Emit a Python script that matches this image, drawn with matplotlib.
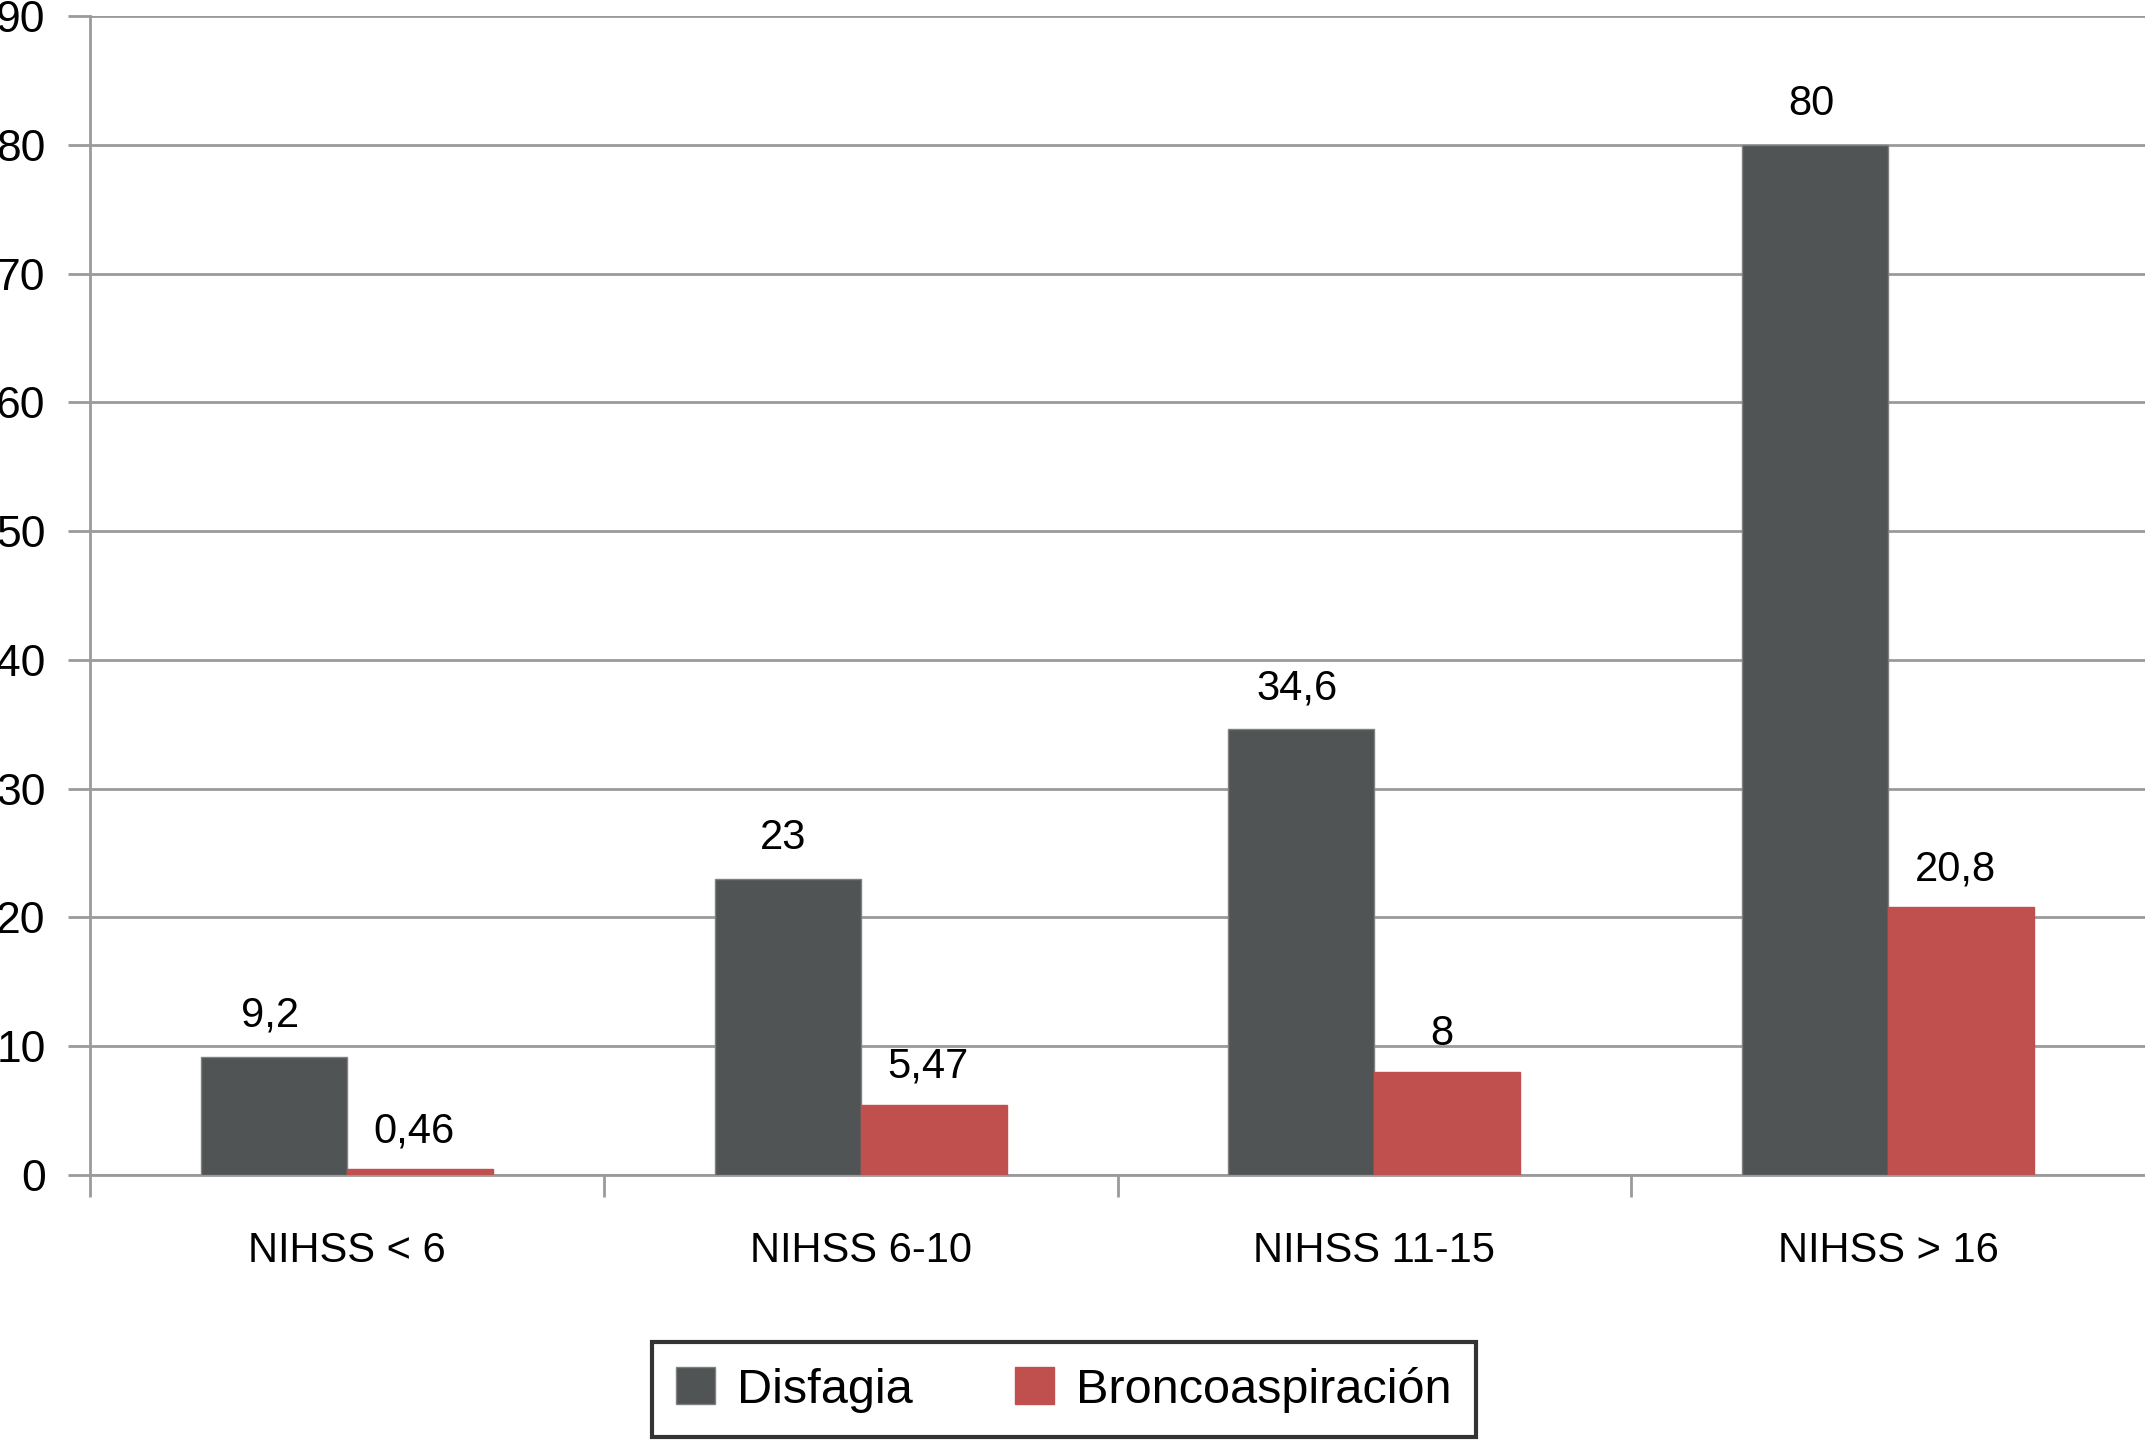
import numpy as np
import matplotlib
matplotlib.use('Agg')
from matplotlib import pyplot as plt

plt.rcParams['font.family'] = ['Liberation Sans', 'DejaVu Sans']

categories = ['NIHSS < 6', 'NIHSS 6-10', 'NIHSS 11-15', 'NIHSS > 16']
disfagia = [9.2, 23, 34.6, 80]
bronco = [0.46, 5.47, 8, 20.8]
disfagia_txt = ['9,2', '23', '34,6', '80']
bronco_txt = ['0,46', '5,47', '8', '20,8']

grid_col = '#9a9a9a'
dark = '#505455'
red = '#c0504d'

fig = plt.figure(figsize=(21.45, 14.4), dpi=100)
ax = fig.add_axes([90/2145, 1 - 1175/1440, 1 - 90/2145, (1175 - 16)/1440])

x = np.arange(len(categories))
w = 0.284
ax.bar(x - w/2, disfagia, w, color=dark, edgecolor='#808080', linewidth=1, zorder=3, label='Disfagia')
ax.bar(x + w/2, bronco, w, color=red, edgecolor=red, linewidth=1, zorder=3, label='Broncoaspiración')

for xi, v, t in zip(x, disfagia, disfagia_txt):
    ax.annotate(t, (xi - w/2, v), xytext=(-3, 15), textcoords='offset points',
                ha='center', va='bottom', fontsize=30)
for xi, v, t in zip(x, bronco, bronco_txt):
    ax.annotate(t, (xi + w/2, v), xytext=(-4, 13), textcoords='offset points',
                ha='center', va='bottom', fontsize=30)

ax.set_xlim(-0.5, 3.5)
ax.set_ylim(0, 90)
ax.set_yticks(np.arange(0, 91, 10))
ax.yaxis.grid(True, color=grid_col, linewidth=2, zorder=0)
ax.tick_params(axis='y', direction='out', length=16, width=2, color=grid_col,
               labelsize=32, pad=16)

ax.set_xticks(x)
ax.set_xticklabels(categories)
ax.set_xticks(np.arange(-0.5, 3.0, 1), minor=True)
ax.tick_params(axis='x', which='major', length=0, labelsize=30, pad=40)
ax.tick_params(axis='x', which='minor', direction='out', length=16, width=2, color=grid_col)

for s in ['top', 'right']:
    ax.spines[s].set_visible(False)
ax.spines['left'].set_color(grid_col)
ax.spines['left'].set_linewidth(2)
ax.spines['bottom'].set_color(grid_col)
ax.spines['bottom'].set_linewidth(2)

leg = fig.legend(loc='center', bbox_to_anchor=(0.496, 0.035), ncol=2, fontsize=35,
                 frameon=True, fancybox=False, edgecolor='black', handlelength=0.8,
                 handleheight=0.8, handletextpad=0.45, columnspacing=2.1,
                 borderpad=0.5)
leg.get_frame().set_linewidth(3)

fig.savefig('out.png', dpi=100)
